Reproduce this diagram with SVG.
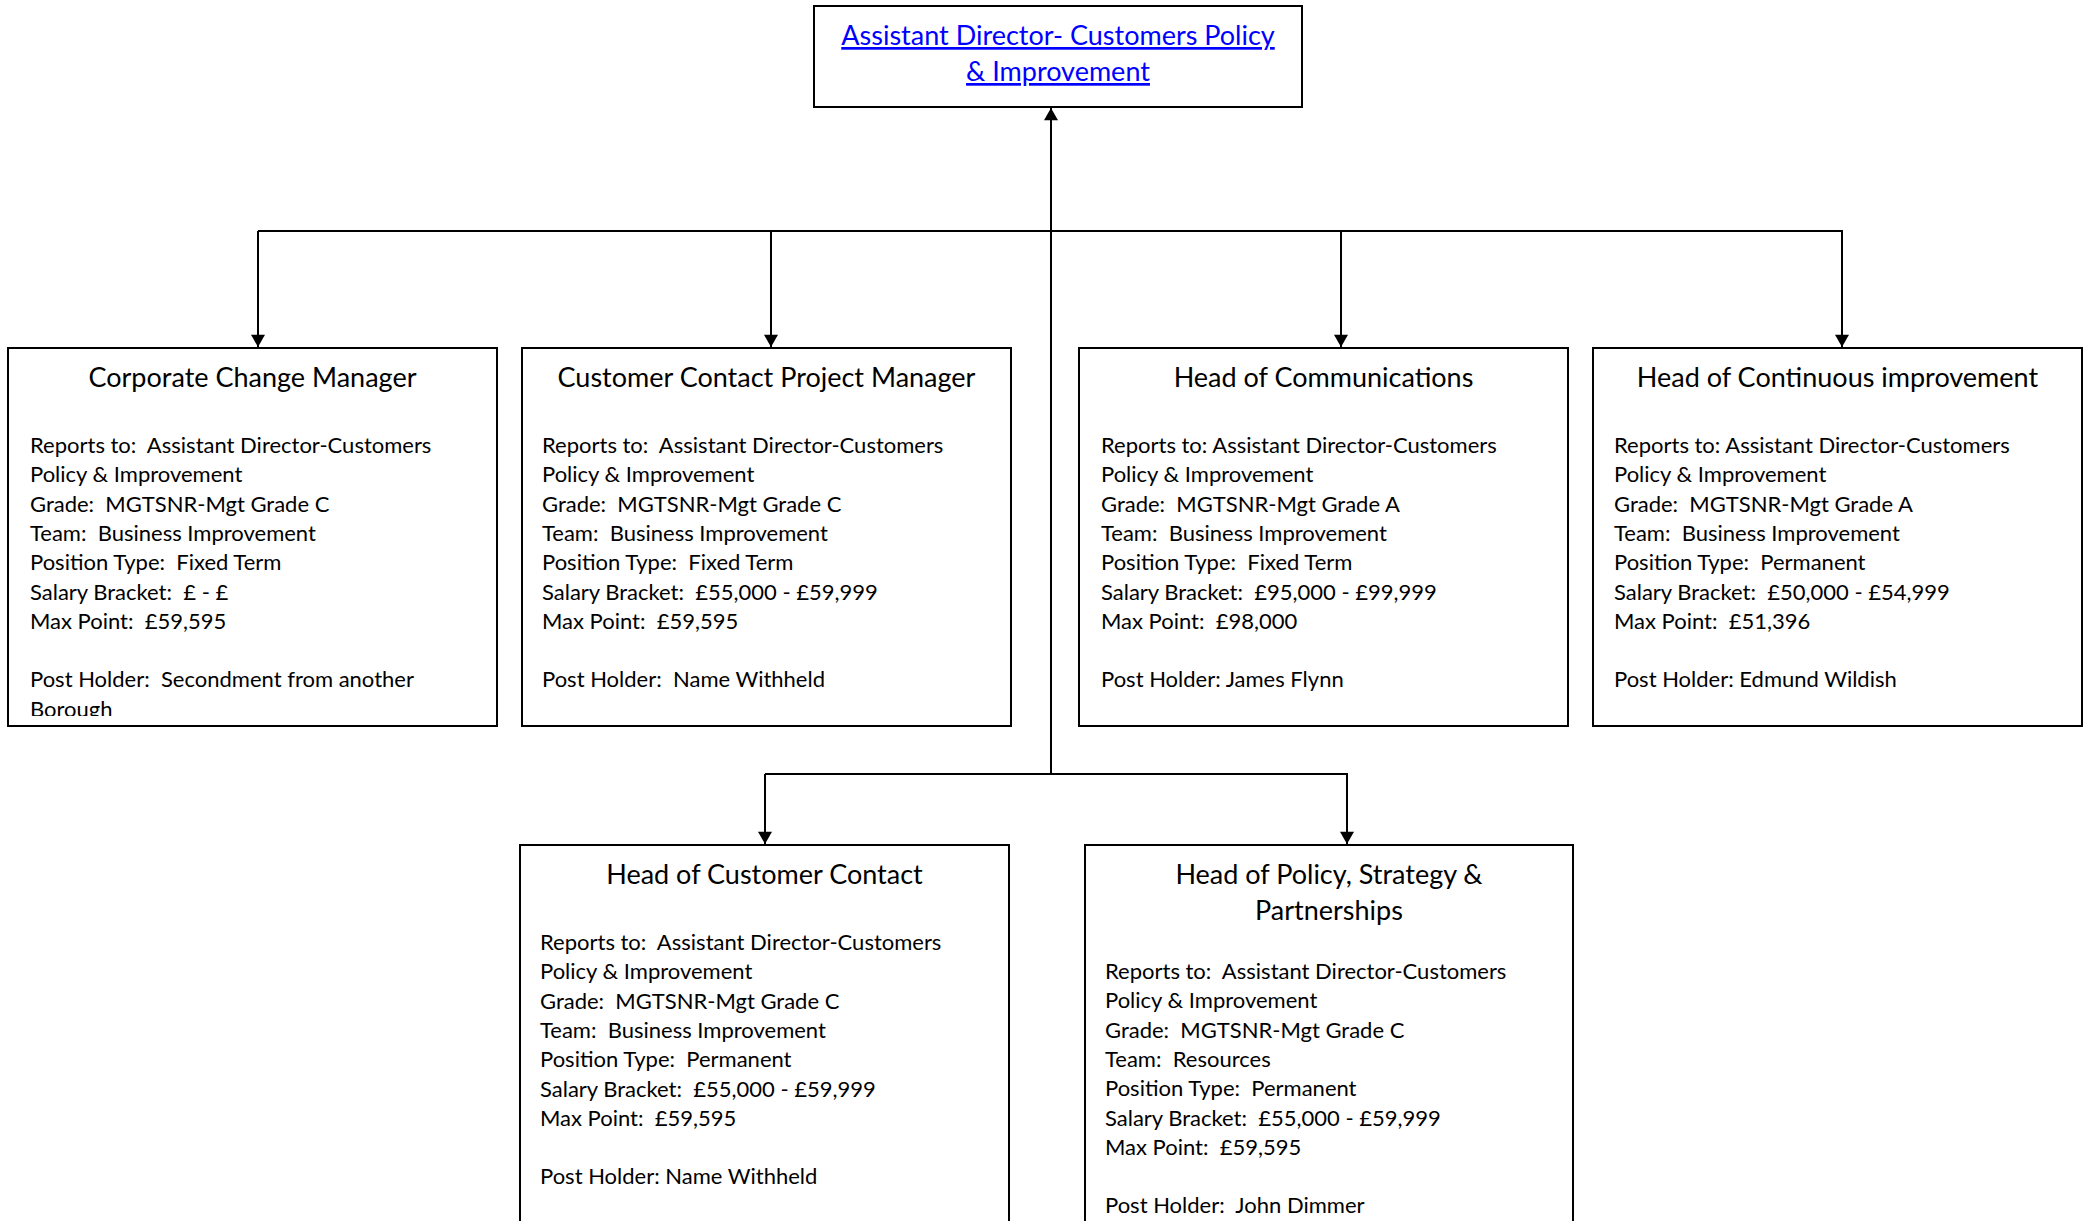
<svg xmlns="http://www.w3.org/2000/svg" width="2089" height="1221" viewBox="0 0 2089 1221">
<style>
.box{fill:#fff;stroke:#000;stroke-width:2}
.ttl{font-family:Lato,"Liberation Sans",sans-serif;font-size:27px;fill:#000;text-anchor:middle}
.top{font-family:Lato,"Liberation Sans",sans-serif;font-size:27px;fill:#0000FF;text-anchor:middle;text-decoration:underline}
.bd{font-family:Lato,"Liberation Sans",sans-serif;font-size:22px;fill:#000}
.con{fill:none;stroke:#000;stroke-width:2}
</style>
<defs>
<marker id="arr" markerUnits="userSpaceOnUse" markerWidth="16" markerHeight="14" viewBox="0 0 14 16" refX="14" refY="8" orient="auto">
<path d="M0 0 L14 8 L0 16 Z" fill="#000"/>
</marker>
<clipPath id="c1"><rect x="8" y="348" width="489" height="368"/></clipPath>
</defs>
<rect width="2089" height="1221" fill="#fff"/>
<g id="connectors">
<path class="con" d="M1051 774 V108" marker-end="url(#arr)"/>
<path class="con" d="M258 231 H1843"/>
<path class="con" d="M258 231 V347" marker-end="url(#arr)"/>
<path class="con" d="M771 231 V347" marker-end="url(#arr)"/>
<path class="con" d="M1341 231 V347" marker-end="url(#arr)"/>
<path class="con" d="M1842 231 V347" marker-end="url(#arr)"/>
<path class="con" d="M765 774 H1348"/>
<path class="con" d="M765 774 V844" marker-end="url(#arr)"/>
<path class="con" d="M1347 774 V844" marker-end="url(#arr)"/>
</g>
<g id="node-ad">
<rect class="box" x="814" y="6" width="488" height="101"/>
<text class="top" x="1058" y="45">Assistant Director- Customers Policy</text>
<text class="top" x="1058" y="81">&amp; Improvement</text>
</g>
<g id="node-ccm">
<rect class="box" x="8" y="348" width="489" height="378"/>
<text class="ttl" x="252.5" y="387">Corporate Change Manager</text>
<g class="bd" clip-path="url(#c1)">
<text x="30" y="453" xml:space="preserve">Reports to:  Assistant Director-Customers</text>
<text x="30" y="482.3">Policy &amp; Improvement</text>
<text x="30" y="511.6" xml:space="preserve">Grade:  MGTSNR-Mgt Grade C</text>
<text x="30" y="540.9" xml:space="preserve">Team:  Business Improvement</text>
<text x="30" y="570.2" xml:space="preserve">Position Type:  Fixed Term</text>
<text x="30" y="599.5" xml:space="preserve">Salary Bracket:  £ - £</text>
<text x="30" y="628.8" xml:space="preserve">Max Point:  £59,595</text>
<text x="30" y="687.4" xml:space="preserve">Post Holder:  Secondment from another</text>
<text x="30" y="716.7">Borough</text>
</g>
</g>
<g id="node-ccpm">
<rect class="box" x="522" y="348" width="489" height="378"/>
<text class="ttl" x="766.5" y="387">Customer Contact Project Manager</text>
<g class="bd">
<text x="542" y="453" xml:space="preserve">Reports to:  Assistant Director-Customers</text>
<text x="542" y="482.3">Policy &amp; Improvement</text>
<text x="542" y="511.6" xml:space="preserve">Grade:  MGTSNR-Mgt Grade C</text>
<text x="542" y="540.9" xml:space="preserve">Team:  Business Improvement</text>
<text x="542" y="570.2" xml:space="preserve">Position Type:  Fixed Term</text>
<text x="542" y="599.5" xml:space="preserve">Salary Bracket:  £55,000 - £59,999</text>
<text x="542" y="628.8" xml:space="preserve">Max Point:  £59,595</text>
<text x="542" y="687.4" xml:space="preserve">Post Holder:  Name Withheld</text>
</g>
</g>
<g id="node-hoc">
<rect class="box" x="1079" y="348" width="489" height="378"/>
<text class="ttl" x="1323.5" y="387">Head of Communications</text>
<g class="bd">
<text x="1101" y="453" xml:space="preserve">Reports to: Assistant Director-Customers</text>
<text x="1101" y="482.3">Policy &amp; Improvement</text>
<text x="1101" y="511.6" xml:space="preserve">Grade:  MGTSNR-Mgt Grade A</text>
<text x="1101" y="540.9" xml:space="preserve">Team:  Business Improvement</text>
<text x="1101" y="570.2" xml:space="preserve">Position Type:  Fixed Term</text>
<text x="1101" y="599.5" xml:space="preserve">Salary Bracket:  £95,000 - £99,999</text>
<text x="1101" y="628.8" xml:space="preserve">Max Point:  £98,000</text>
<text x="1101" y="687.4" xml:space="preserve">Post Holder: James Flynn</text>
</g>
</g>
<g id="node-hci">
<rect class="box" x="1593" y="348" width="489" height="378"/>
<text class="ttl" x="1837.5" y="387">Head of Continuous improvement</text>
<g class="bd">
<text x="1614" y="453" xml:space="preserve">Reports to: Assistant Director-Customers</text>
<text x="1614" y="482.3">Policy &amp; Improvement</text>
<text x="1614" y="511.6" xml:space="preserve">Grade:  MGTSNR-Mgt Grade A</text>
<text x="1614" y="540.9" xml:space="preserve">Team:  Business Improvement</text>
<text x="1614" y="570.2" xml:space="preserve">Position Type:  Permanent</text>
<text x="1614" y="599.5" xml:space="preserve">Salary Bracket:  £50,000 - £54,999</text>
<text x="1614" y="628.8" xml:space="preserve">Max Point:  £51,396</text>
<text x="1614" y="687.4" xml:space="preserve">Post Holder: Edmund Wildish</text>
</g>
</g>
<g id="node-hcc">
<rect class="box" x="520" y="845" width="489" height="400"/>
<text class="ttl" x="764.5" y="884">Head of Customer Contact</text>
<g class="bd">
<text x="540" y="950" xml:space="preserve">Reports to:  Assistant Director-Customers</text>
<text x="540" y="979.3">Policy &amp; Improvement</text>
<text x="540" y="1008.6" xml:space="preserve">Grade:  MGTSNR-Mgt Grade C</text>
<text x="540" y="1037.9" xml:space="preserve">Team:  Business Improvement</text>
<text x="540" y="1067.2" xml:space="preserve">Position Type:  Permanent</text>
<text x="540" y="1096.5" xml:space="preserve">Salary Bracket:  £55,000 - £59,999</text>
<text x="540" y="1125.8" xml:space="preserve">Max Point:  £59,595</text>
<text x="540" y="1184.4" xml:space="preserve">Post Holder: Name Withheld</text>
</g>
</g>
<g id="node-hpsp">
<rect class="box" x="1085" y="845" width="488" height="400"/>
<text class="ttl" x="1329" y="884">Head of Policy, Strategy &amp;</text>
<text class="ttl" x="1329" y="920">Partnerships</text>
<g class="bd">
<text x="1105" y="979" xml:space="preserve">Reports to:  Assistant Director-Customers</text>
<text x="1105" y="1008.3">Policy &amp; Improvement</text>
<text x="1105" y="1037.6" xml:space="preserve">Grade:  MGTSNR-Mgt Grade C</text>
<text x="1105" y="1066.9" xml:space="preserve">Team:  Resources</text>
<text x="1105" y="1096.2" xml:space="preserve">Position Type:  Permanent</text>
<text x="1105" y="1125.5" xml:space="preserve">Salary Bracket:  £55,000 - £59,999</text>
<text x="1105" y="1154.8" xml:space="preserve">Max Point:  £59,595</text>
<text x="1105" y="1213.4" xml:space="preserve">Post Holder:  John Dimmer</text>
</g>
</g>
</svg>
